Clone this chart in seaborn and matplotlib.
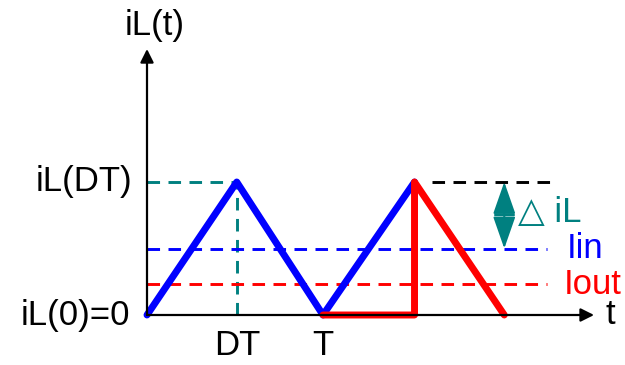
import matplotlib
matplotlib.use("Agg")
import matplotlib.pyplot as plt
import seaborn as sns

# waveform data (time in units of T, current normalised to iL(DT))
t_in = [0.0, 0.51, 1.0, 1.52]
i_in = [0.0, 1.0, 0.0, 1.0]
t_out = [1.0, 1.52, 1.52, 2.03]
i_out = [0.0, 0.0, 1.0, 0.0]
dt_pos = 0.51
t_pos = 1.0
i_peak = 1.0
i_avg_in = 0.50
i_avg_out = 0.23

col_blue = "#0000ff"
col_red = "#ff0000"
col_teal = "#008080"

sns.set_style("white")
plt.rcParams["font.family"] = ["Liberation Sans", "DejaVu Sans"]
plt.rcParams["text.color"] = "black"

fig = plt.figure(figsize=(6.25, 3.65), dpi=100)
ax = fig.add_axes([0, 0, 1, 1])
ax.set_xlim(-147 / 176, (625 - 147) / 176)
ax.set_ylim(-(365 - 315) / 133, 315 / 133)
ax.axis("off")

# axes with arrows
for tip in [(0, 2.0), (2.54, 0)]:
    ax.annotate("", xy=tip, xytext=(0, 0),
                arrowprops=dict(arrowstyle="-|>,head_length=0.8,head_width=0.4", color="black", lw=1.6,
                                shrinkA=0, shrinkB=0))

# dashed guides
dash = dict(lw=2.1, dashes=(4.3, 2.9))
ax.plot([0, dt_pos], [i_peak, i_peak], color=col_teal, **dash)
ax.plot([dt_pos, dt_pos], [0, i_peak], color=col_teal, **dash)
ax.plot([0, 2.27], [i_avg_in, i_avg_in], color=col_blue, **dash)
ax.plot([0, 2.27], [i_avg_out, i_avg_out], color=col_red, **dash)
ax.plot([1.62, 2.29], [i_peak, i_peak], color="black", **dash)

# waveforms
sns.lineplot(x=t_in, y=i_in, sort=False, estimator=None, color=col_blue, lw=5,
             solid_capstyle="round", solid_joinstyle="round", ax=ax)
sns.lineplot(x=t_out, y=i_out, sort=False, estimator=None, color=col_red, lw=5,
             solid_capstyle="round", solid_joinstyle="round", ax=ax)

# delta iL double arrow
x_arr = 2.03
mid = (i_peak + i_avg_in) / 2
for end in (i_peak, i_avg_in):
    ax.annotate("", xy=(x_arr, end), xytext=(x_arr, mid),
                arrowprops=dict(arrowstyle="-|>,head_length=2.0,head_width=0.7", color=col_teal, lw=1.5,
                                shrinkA=0, shrinkB=0))
ax.plot([x_arr - 0.055, x_arr + 0.055], [mid, mid], color=col_teal, lw=1.5)

fs = 25
ax.text(0.045, 2.18, "iL(t)", fontsize=fs, ha="center", va="center")
ax.text(-0.085, i_peak, "iL(DT)", fontsize=fs, ha="right", va="center")
ax.text(-0.097, 0, "iL(0)=0", fontsize=fs, ha="right", va="center")
ax.text(dt_pos, -0.30, "DT", fontsize=fs, ha="center", va="baseline")
ax.text(t_pos, -0.30, "T", fontsize=fs, ha="center", va="baseline")
ax.text(2.63, 0, "t", fontsize=fs, ha="center", va="center")
ax.text(2.11, 0.77, "\u25b3 iL", fontsize=fs, ha="left", va="center", color=col_teal)
ax.text(2.386, i_avg_in, "Iin", fontsize=fs, ha="left", va="center", color=col_blue)
ax.text(2.37, i_avg_out, "Iout", fontsize=fs, ha="left", va="center", color=col_red)

fig.savefig("out.png", dpi=100)
